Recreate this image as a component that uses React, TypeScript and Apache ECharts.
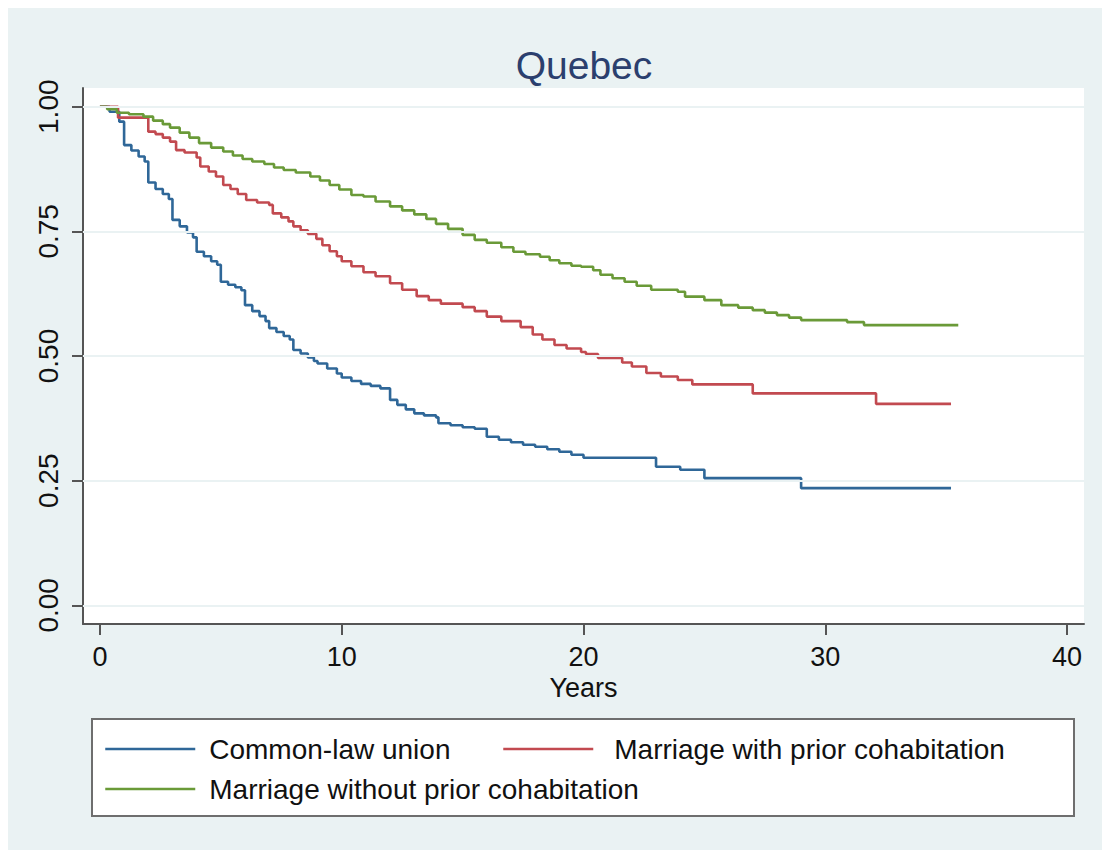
import React, { useEffect, useRef } from "react";
import * as echarts from "echarts";

const TITLE = "Quebec";
const X_NAME = "Years";
const SERIES_NAMES = [
  "Common-law union",
  "Marriage with prior cohabitation",
  "Marriage without prior cohabitation",
];
const SERIES_COLORS = ["#2f6798", "#c24a50", "#6a9a38"];

// Kaplan-Meier style survival estimates: [years, survival]
const commonLaw: [number, number][] = [
  [0, 1.0], [0.4, 0.99], [0.8, 0.97], [1.0, 0.923], [1.3, 0.912], [1.6, 0.9], [1.85, 0.89],
  [2.0, 0.848], [2.3, 0.835], [2.6, 0.825], [2.85, 0.815], [3.0, 0.773], [3.3, 0.76],
  [3.6, 0.748], [3.85, 0.738], [4.0, 0.709], [4.3, 0.7], [4.6, 0.69], [4.85, 0.683],
  [5.0, 0.649], [5.3, 0.643], [5.6, 0.638], [5.85, 0.632], [6.0, 0.602], [6.3, 0.59],
  [6.6, 0.58], [6.85, 0.57], [7.0, 0.556], [7.3, 0.548], [7.6, 0.54], [7.85, 0.533],
  [8.0, 0.512], [8.3, 0.505], [8.6, 0.497], [8.85, 0.49], [9.0, 0.485], [9.4, 0.475],
  [9.8, 0.465], [10.0, 0.457], [10.4, 0.45], [10.8, 0.444], [11.2, 0.44], [11.6, 0.435],
  [12.0, 0.412], [12.3, 0.402], [12.65, 0.393], [13.0, 0.385], [13.4, 0.381], [13.9, 0.377],
  [14.0, 0.365], [14.5, 0.361], [15.0, 0.357], [15.5, 0.354], [16.0, 0.338], [16.5, 0.332],
  [17.0, 0.327], [17.5, 0.322], [18.0, 0.318], [18.5, 0.313], [19.0, 0.308], [19.5, 0.302],
  [20.0, 0.296], [23.0, 0.278], [24.0, 0.272], [25.0, 0.255], [29.0, 0.235], [35.2, 0.235],
];

const marriageWith: [number, number][] = [
  [0, 1.0], [0.75, 0.978], [2.0, 0.95], [2.3, 0.945], [2.6, 0.938], [2.9, 0.93], [3.15, 0.913],
  [3.5, 0.908], [4.0, 0.898], [4.15, 0.88], [4.5, 0.87], [4.8, 0.86], [5.1, 0.843], [5.4, 0.835],
  [5.7, 0.825], [6.05, 0.813], [6.5, 0.808], [7.0, 0.803], [7.15, 0.786], [7.5, 0.778],
  [7.8, 0.77], [8.0, 0.76], [8.3, 0.752], [8.6, 0.745], [8.95, 0.735], [9.2, 0.722],
  [9.5, 0.71], [9.8, 0.7], [10.0, 0.69], [10.4, 0.68], [10.9, 0.668], [11.4, 0.66],
  [12.0, 0.646], [12.5, 0.633], [13.1, 0.62], [13.6, 0.612], [14.1, 0.605], [15.0, 0.598],
  [15.5, 0.59], [16.0, 0.579], [16.6, 0.57], [17.4, 0.558], [17.9, 0.543], [18.3, 0.533],
  [18.8, 0.522], [19.3, 0.515], [19.9, 0.508], [20.1, 0.504], [20.6, 0.496], [21.6, 0.487],
  [22.0, 0.479], [22.6, 0.466], [23.2, 0.459], [23.9, 0.452], [24.5, 0.443], [27.0, 0.425],
  [32.1, 0.404], [35.2, 0.404],
];

const marriageWithout: [number, number][] = [
  [0, 1.0], [0.3, 0.995], [0.7, 0.988], [1.2, 0.985], [1.8, 0.98], [2.2, 0.972], [2.6, 0.965],
  [2.9, 0.958], [3.3, 0.948], [3.7, 0.938], [4.1, 0.927], [4.6, 0.918], [5.1, 0.91],
  [5.5, 0.902], [5.9, 0.895], [6.3, 0.89], [6.8, 0.885], [7.2, 0.878], [7.6, 0.873],
  [8.1, 0.868], [8.7, 0.86], [9.1, 0.852], [9.5, 0.843], [9.9, 0.834], [10.4, 0.823],
  [10.9, 0.82], [11.4, 0.81], [12.0, 0.8], [12.5, 0.792], [13.0, 0.784], [13.5, 0.775],
  [13.9, 0.765], [14.4, 0.755], [15.0, 0.743], [15.5, 0.733], [16.0, 0.727], [16.6, 0.718],
  [17.1, 0.709], [17.6, 0.704], [18.2, 0.699], [18.6, 0.692], [19.0, 0.686], [19.5, 0.681],
  [19.9, 0.679], [20.4, 0.672], [20.7, 0.663], [21.2, 0.656], [21.7, 0.649], [22.2, 0.641],
  [22.8, 0.633], [23.9, 0.629], [24.2, 0.619], [25.0, 0.612], [25.7, 0.602], [26.4, 0.597],
  [27.0, 0.592], [27.5, 0.587], [28.0, 0.582], [28.5, 0.577], [29.0, 0.572], [30.9, 0.568],
  [31.6, 0.562], [35.5, 0.562],
];

const SERIES_DATA = [commonLaw, marriageWith, marriageWithout];
const X_TICKS = [0, 10, 20, 30, 40];
const Y_TICKS = [0, 0.25, 0.5, 0.75, 1.0];

const FONT = "'Liberation Sans', Arial, sans-serif";

export default function App() {
  const ref = useRef<HTMLDivElement>(null);

  useEffect(() => {
    if (!ref.current) return;
    const chart = echarts.init(ref.current, undefined, { renderer: "svg" });

    const legendPos = [
      { left: 96, top: 727, pad: 9 },
      { left: 494, top: 727, pad: 16 },
      { left: 96, top: 767, pad: 9 },
    ];

    chart.setOption({
      animation: false,
      backgroundColor: "#eaf2f3",
      textStyle: { fontFamily: FONT },
      title: {
        text: TITLE,
        left: 571,
        top: 33,
        textAlign: "center",
        textStyle: { color: "#2b3f6e", fontSize: 39, fontWeight: "normal", fontFamily: FONT },
      },
      graphic: [
        {
          type: "rect",
          z: 1,
          shape: { x: 84, y: 711, width: 982, height: 97 },
          style: { fill: "#ffffff", stroke: "#6e6e6e", lineWidth: 2 },
        },
      ],
      legend: SERIES_NAMES.map((n, i) => ({
        data: [n],
        left: legendPos[i].left,
        top: legendPos[i].top,
        itemWidth: 90,
        itemHeight: 4,
        z: 5,
        padding: 0,
        itemStyle: { opacity: 0 },
        lineStyle: { width: 2.5 },
        textStyle: {
          fontSize: 28,
          color: "#111",
          fontFamily: FONT,
          padding: [0, 0, 0, legendPos[i].pad],
        },
      })),
      grid: {
        left: 75,
        top: 80,
        width: 1001,
        height: 536,
        show: true,
        backgroundColor: "#ffffff",
        borderWidth: 0,
      },
      xAxis: {
        type: "value",
        min: -0.7,
        max: 40.7,
        name: X_NAME,
        nameLocation: "middle",
        nameGap: 50,
        nameTextStyle: { fontSize: 27, color: "#111", fontFamily: FONT },
        axisLine: { show: true, onZero: false, lineStyle: { color: "#555", width: 2 } },
        axisTick: {
          show: true,
          length: 11,
          lineStyle: { color: "#555", width: 2 },
          customValues: X_TICKS,
        },
        axisLabel: {
          fontSize: 27,
          color: "#111",
          margin: 19,
          customValues: X_TICKS,
          fontFamily: FONT,
        },
        splitLine: { show: false },
      },
      yAxis: {
        type: "value",
        min: -0.0375,
        max: 1.0375,
        axisLine: { show: true, onZero: false, lineStyle: { color: "#555", width: 2 } },
        axisTick: {
          show: true,
          length: 11,
          lineStyle: { color: "#555", width: 2 },
          customValues: Y_TICKS,
        },
        axisLabel: {
          fontSize: 28,
          color: "#111",
          rotate: 90,
          margin: 21,
          customValues: Y_TICKS,
          formatter: (v: number) => v.toFixed(2),
          fontFamily: FONT,
        },
        splitLine: { show: false },
      },
      series: [
        ...SERIES_NAMES.map((n, i) => ({
          name: n,
          type: "line",
          step: "end",
          symbol: "none",
          showSymbol: false,
          data: SERIES_DATA[i],
          color: SERIES_COLORS[i],
          lineStyle: { color: SERIES_COLORS[i], width: 2.6 },
          z: 3,
        })),
        {
          type: "line",
          name: "grid",
          data: [],
          silent: true,
          markLine: {
            silent: true,
            symbol: "none",
            label: { show: false },
            lineStyle: { color: "#eaf2f3", width: 2, type: "solid" },
            data: Y_TICKS.map((y) => ({ yAxis: y })),
          },
          z: 1,
        },
      ],
    });

    return () => chart.dispose();
  }, []);

  return (
    <div
      ref={ref}
      style={{ position: "absolute", left: 8, top: 8, width: 1094, height: 842 }}
    />
  );
}
